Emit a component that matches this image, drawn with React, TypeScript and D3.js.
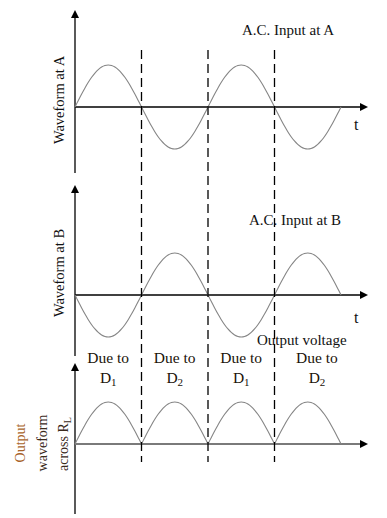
import React from "react";
import * as d3 from "d3";

// polarity of each half-cycle (in units of peak voltage)
const halfCycles = [0, 1, 2, 3];
const inputA = [1, -1, 1, -1];
const inputB = [-1, 1, -1, 1];
const outputRL = [1, 1, 1, 1];
const diodes = ["1", "2", "1", "2"];
const dividers = [1, 2, 3];

const width = 387, height = 518;
const x = d3.scaleLinear().domain([0, 4]).range([75, 341]);
const amp = d3.scaleLinear().domain([-1, 1]).range([42, -42]);
const font = "'Liberation Serif', 'Times New Roman', serif";

function halfWave(i: number, peak: number, base: number) {
  const pts: [number, number][] = d3.range(0, 1.0001, 0.05).map((t) => [
    x(i + t),
    base + amp(peak * Math.sin(Math.PI * t)),
  ]);
  return d3.line().curve(d3.curveCardinal)(pts) || "";
}

function Axes({ base, top, bottom, gray }: { base: number; top: number; bottom: number; gray?: boolean }) {
  const x0 = x(0);
  return (
    <g>
      <line x1={x0} x2={x0} y1={top + 6} y2={bottom} stroke="#000" strokeWidth={1.3} />
      <path d={`M${x0},${top} L${x0 - 4},${top + 8} L${x0 + 4},${top + 8} Z`} fill="#000" />
      <line x1={x0} x2={362} y1={base} y2={base} stroke={gray ? "#7a7a7a" : "#000"} strokeWidth={gray ? 2.2 : 1.3} />
      <path d={`M368,${base} L360,${base - 4} L360,${base + 4} Z`} fill="#000" />
    </g>
  );
}

export default function App() {
  const panels = [
    { vals: inputA, base: 107 },
    { vals: inputB, base: 295 },
    { vals: outputRL, base: 444 },
  ];
  return (
    <svg width={width} height={height} style={{ position: "absolute", left: 0, top: 0, background: "#fff" }} fontFamily={font}>
      <Axes base={107} top={10} bottom={173} />
      <Axes base={295} top={185} bottom={356} />
      <Axes base={444} top={363} bottom={514} gray />

      {panels.map((p, k) =>
        halfCycles.map((i) => (
          <path key={k + "-" + i} d={halfWave(i, p.vals[i], p.base)} fill="none" stroke="#858585" strokeWidth={1.1} />
        ))
      )}

      {dividers.map((d) => (
        <line key={d} x1={x(d)} x2={x(d)} y1={50} y2={462} stroke="#000" strokeWidth={1.3} strokeDasharray="9,5" />
      ))}

      <text x={242} y={35} fontSize={15} fill="#111">A.C. Input at A</text>
      <text x={249} y={225} fontSize={15} fill="#111">A.C. Input at B</text>
      <text x={354} y={130} fontSize={16} fill="#111">t</text>
      <text x={354} y={323} fontSize={16} fill="#111">t</text>
      <text x={257} y={345} fontSize={15} fill="#111">Output voltage</text>

      {diodes.map((d, i) => {
        const cx = i === 3 ? 317 : x(i + 0.5);
        return (
          <g key={i} fontSize={15.5} fill="#1a1208" textAnchor="middle">
            <text x={cx} y={363}>Due to</text>
            <text x={cx} y={383}>
              D<tspan fontSize={11} dy={3}>{d}</tspan>
            </text>
          </g>
        );
      })}

      <text transform="translate(64,100) rotate(-90)" textAnchor="middle" fontSize={14.5} fill="#111">Waveform at A</text>
      <text transform="translate(64,273) rotate(-90)" textAnchor="middle" fontSize={14.5} fill="#111">Waveform at B</text>

      <text transform="translate(25,443) rotate(-90)" textAnchor="middle" fontSize={14} fill="#a8642a">Output</text>
      <text transform="translate(47,443) rotate(-90)" textAnchor="middle" fontSize={14} fill="#3a2a1c">waveform</text>
      <text transform="translate(68,444) rotate(-90)" textAnchor="middle" fontSize={14} fill="#3a2a1c">
        across R<tspan fontSize={10} dy={3}>L</tspan>
      </text>
    </svg>
  );
}
